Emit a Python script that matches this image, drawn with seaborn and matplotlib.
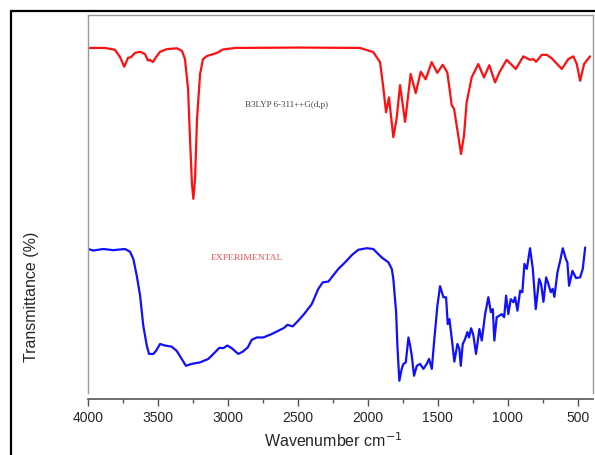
import numpy as np
import pandas as pd
import matplotlib
matplotlib.use("Agg")
import matplotlib.pyplot as plt
from matplotlib.patches import Rectangle
from matplotlib.ticker import MultipleLocator
import seaborn as sns

# calculated spectrum (B3LYP 6-311++G(d,p))
calc_wn = [4000, 3878, 3807, 3771, 3741, 3714, 3693, 3664, 3628, 3593, 3571, 3557, 3536,
           3514, 3485, 3435, 3364, 3328, 3307, 3285, 3271, 3257, 3247, 3235, 3221, 3199,
           3178, 3149, 3114, 3078, 3035, 2949, 2485, 2056, 1961, 1913, 1891, 1870, 1849,
           1818, 1795, 1770, 1734, 1694, 1658, 1622, 1587, 1544, 1504, 1465, 1432, 1401,
           1384, 1354, 1334, 1313, 1294, 1258, 1211, 1170, 1132, 1091, 1060, 1008, 943,
           889, 841, 817, 798, 757, 721, 686, 614, 567, 531, 507, 483, 455, 412]
calc_t = [91.4, 91.4, 90.9, 89.0, 86.5, 88.8, 89.0, 90.1, 90.4, 89.8, 88.1, 88.3, 87.7,
          89.0, 90.4, 91.1, 91.3, 90.6, 88.5, 80.7, 67.6, 55.9, 52.0, 57.2, 72.8, 84.6,
          88.5, 89.3, 89.7, 90.1, 91.0, 91.4, 91.5, 91.4, 90.3, 87.7, 81.5, 74.6, 78.5,
          68.1, 72.8, 81.7, 72.1, 84.6, 79.6, 85.2, 83.2, 87.7, 84.9, 87.0, 85.0, 76.5,
          75.5, 68.5, 63.7, 68.5, 77.2, 83.7, 87.2, 83.7, 86.9, 82.4, 85.0, 88.3, 85.9,
          89.2, 88.3, 88.5, 87.8, 89.6, 89.6, 88.7, 85.9, 88.5, 89.2, 87.2, 82.8, 87.2, 89.2]

# experimental spectrum
exp_wn = [3998, 3962, 3891, 3819, 3736, 3700, 3676, 3652, 3628, 3605, 3580, 3564, 3533,
          3514, 3485, 3450, 3402, 3366, 3330, 3300, 3259, 3199, 3140, 3104, 3061, 3033,
          3004, 2973, 2926, 2894, 2858, 2830, 2794, 2747, 2687, 2627, 2599, 2575, 2537,
          2497, 2456, 2401, 2354, 2322, 2282, 2211, 2163, 2115, 2068, 2008, 1961, 1937,
          1901, 1853, 1829, 1818, 1798, 1789, 1775, 1758, 1746, 1729, 1710, 1698, 1686,
          1670, 1650, 1627, 1603, 1579, 1563, 1543, 1527, 1503, 1484, 1460, 1441, 1429,
          1417, 1400, 1382, 1360, 1346, 1336, 1322, 1305, 1289, 1277, 1262, 1246, 1227,
          1203, 1186, 1162, 1139, 1121, 1107, 1096, 1079, 1060, 1043, 1026, 1012, 996,
          979, 960, 948, 931, 912, 896, 881, 864, 841, 821, 800, 776, 762, 745, 726, 710,
          693, 679, 667, 645, 626, 607, 585, 574, 562, 538, 512, 483, 464, 447]
exp_t = [38.9, 38.5, 38.9, 38.6, 38.9, 38.2, 36.3, 32.0, 26.8, 18.9, 13.7, 11.5, 11.5,
         12.3, 14.1, 13.7, 13.4, 12.3, 10.2, 8.4, 8.9, 9.3, 10.2, 11.5, 13.1, 13.0,
         13.7, 13.0, 11.5, 12.1, 13.2, 15.2, 15.8, 15.8, 16.7, 17.8, 18.3, 19.1, 18.7,
         20.2, 21.9, 24.5, 28.5, 30.2, 30.4, 33.7, 35.4, 37.3, 38.7, 39.1, 38.9, 38.0,
         36.7, 35.4, 33.7, 31.1, 22.4, 13.7, 4.5, 7.6, 8.9, 9.3, 15.8, 13.7, 11.0,
         5.8, 8.4, 8.9, 7.6, 8.9, 10.2, 7.6, 14.5, 24.1, 29.2, 26.3, 26.3, 19.3,
         20.6, 15.4, 9.5, 14.1, 12.8, 8.4, 14.1, 15.4, 17.2, 15.8, 18.2, 16.4, 11.5,
         18.0, 15.0, 21.9, 26.3, 22.4, 23.2, 15.0, 21.1, 21.5, 21.9, 21.1, 26.7, 21.9,
         25.8, 25.0, 26.3, 22.8, 28.0, 27.6, 35.0, 33.7, 39.1, 33.7, 23.2, 31.1, 29.8, 25.1, 31.5, 29.8,
         27.6, 28.5, 26.4, 32.8, 35.8, 39.1, 36.3, 35.4, 29.3, 33.2, 31.3, 31.5, 33.7, 39.3]

calc_df = pd.DataFrame({"Wavenumber": calc_wn, "Transmittance": calc_t})
exp_df = pd.DataFrame({"Wavenumber": exp_wn, "Transmittance": exp_t})

sns.set_style("white")
plt.rcParams["font.family"] = ["Liberation Sans", "DejaVu Sans"]

fig = plt.figure(figsize=(5.95, 4.56), dpi=100)
ax = fig.add_axes([88 / 595, 1 - 394 / 456, 505 / 595, 378 / 456])

sns.lineplot(data=calc_df, x="Wavenumber", y="Transmittance", ax=ax, color="#ff1010",
             lw=1.6, sort=False, estimator=None, solid_joinstyle="round")
sns.lineplot(data=exp_df, x="Wavenumber", y="Transmittance", ax=ax, color="#1010ff",
             lw=1.6, sort=False, estimator=None, solid_joinstyle="round")

ax.set_xlim(4000, 391)
ax.set_ylim(1.3, 100)
ax.xaxis.set_major_locator(MultipleLocator(500))
ax.xaxis.set_minor_locator(MultipleLocator(250))
ax.set_yticks([])
ax.tick_params(axis="x", which="major", direction="out", length=5, width=1,
               color="#555555", labelsize=10, pad=3)
ax.tick_params(axis="x", which="minor", direction="out", length=3, width=1, color="#555555")
ax.tick_params(axis="x", which="both", bottom=True, top=False)

for side in ["top", "left", "right"]:
    ax.spines[side].set_color("#999999")
    ax.spines[side].set_linewidth(1)
ax.spines["bottom"].set_color("#555555")
ax.spines["bottom"].set_linewidth(1.2)
ax.spines["bottom"].set_position(("outward", 4))

ax.set_xlabel("Wavenumber cm$^{-1}$", fontsize=11.5)
ax.xaxis.set_label_coords(0.485, -0.098)
ax.set_ylabel("Transmittance (%)", fontsize=11.5)
ax.yaxis.set_label_coords(-0.098, 0.257)

ax.text(2578, 76.8, "B3LYP 6-311++G(d,p)", fontsize=6.5, color="#444444",
        family="Liberation Serif", ha="center", va="center")
ax.text(2866, 36.9, "EXPERIMENTAL", fontsize=6.8, color="#f05050",
        family="Liberation Serif", ha="center", va="center")

# black frame around the figure
fig.patches.append(Rectangle((11 / 595, -0.1), 2, 1.1 - 12 / 456, fill=False,
                             edgecolor="black", lw=1.6, transform=fig.transFigure))

fig.savefig("out.png", dpi=100)
